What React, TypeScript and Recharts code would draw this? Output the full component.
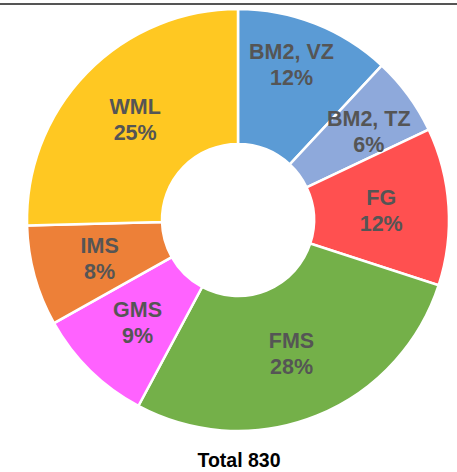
import React from "react";
import { PieChart, Pie, Cell } from "recharts";

const categories = ["BM2, VZ", "BM2, TZ", "FG", "FMS", "GMS", "IMS", "WML"];
const counts = [99, 50, 100, 231, 75, 64, 211];
const colors = ["#5B9BD5", "#8EA9DB", "#FF5050", "#74B049", "#FF62FF", "#ED8038", "#FFC822"];
const totalLabel = "Total";

const data = categories.map((name, i) => ({ name, value: counts[i] }));
const total = counts.reduce((a, b) => a + b, 0);

// label placement nudges (style, not data)
const LABEL_NUDGE: Record<string, [number, number]> = {
  "BM2, VZ": [1, -22],
  "BM2, TZ": [15, -4],
};

const RAD = Math.PI / 180;

const renderLabel = (props: any) => {
  const { cx, cy, midAngle, innerRadius, outerRadius, name, value } = props;
  const r = (innerRadius + outerRadius) / 2;
  const nudge = LABEL_NUDGE[name] || [0, 0];
  const x = cx + r * Math.cos(-midAngle * RAD) + nudge[0];
  const y = cy + r * Math.sin(-midAngle * RAD) + nudge[1];
  const pct = Math.round((value / total) * 100);
  return (
    <text
      x={x}
      y={y}
      textAnchor="middle"
      fill="#555555"
      fontFamily="Liberation Sans, Arial, sans-serif"
      fontWeight="bold"
      fontSize={21.5}
    >
      <tspan x={x} y={y - 5.5}>{name}</tspan>
      <tspan x={x} y={y + 20.5}>{pct}%</tspan>
    </text>
  );
};

export default function App() {
  return (
    <div style={{ position: "absolute", left: 0, top: 0, width: 457, height: 472, background: "#fff" }}>
      <div style={{ position: "absolute", left: 0, top: 3, width: 457, height: 2, background: "#555555" }} />
      <PieChart
        width={457}
        height={472}
        margin={{ top: 0, right: 0, bottom: 0, left: 0 }}
        style={{ position: "absolute", left: 0, top: 0 }}
      >
        <Pie
          data={data}
          dataKey="value"
          nameKey="name"
          cx={238}
          cy={220}
          innerRadius={76}
          outerRadius={211}
          startAngle={90}
          endAngle={-270}
          stroke="#ffffff"
          strokeWidth={2.5}
          label={renderLabel}
          labelLine={false}
          isAnimationActive={false}
        >
          {data.map((d, i) => (
            <Cell key={d.name} fill={colors[i]} />
          ))}
        </Pie>
      </PieChart>
      <div
        style={{
          position: "absolute",
          left: 0,
          width: 478,
          top: 448,
          textAlign: "center",
          fontFamily: "Liberation Sans, Arial, sans-serif",
          fontWeight: "bold",
          fontSize: 19.5,
          color: "#000",
          lineHeight: "24px",
        }}
      >
        {totalLabel} {total}
      </div>
    </div>
  );
}
